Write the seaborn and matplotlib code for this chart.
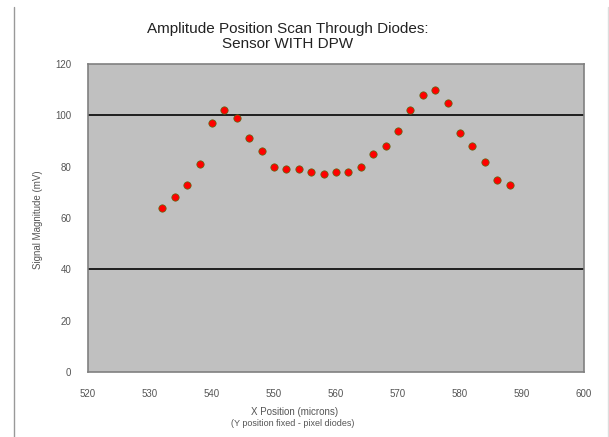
import matplotlib
matplotlib.use("Agg")
import matplotlib.pyplot as plt
import seaborn as sns
import pandas as pd
from matplotlib.lines import Line2D

x_pos = [532, 534, 536, 538, 540, 542, 544, 546, 548, 550, 552, 554, 556, 558, 560,
         562, 564, 566, 568, 570, 572, 574, 576, 578, 580, 582, 584, 586, 588]
signal = [64, 68, 73, 81, 97, 102, 99, 91, 86, 80, 79, 79, 78, 77, 78,
          78, 80, 85, 88, 94, 102, 108, 110, 105, 93, 88, 82, 75, 73]
x_ticks = [520, 530, 540, 550, 560, 570, 580, 590, 600]
y_ticks = [0, 20, 40, 60, 80, 100, 120]
grid_vals = [40, 100]

df = pd.DataFrame({"x": x_pos, "y": signal})

sns.set_theme(style="white")
plt.rcParams['font.family'] = ['Liberation Sans', 'DejaVu Sans']

W, H = 609, 437
fig = plt.figure(figsize=(W / 100, H / 100), dpi=100)
ax = fig.add_axes([88 / W, 1 - 372 / H, (584 - 88) / W, (372 - 64) / H])
ax.set_facecolor('#C0C0C0')

for g in grid_vals:
    ax.axhline(g, color='#111111', lw=1.3, zorder=1)

sns.scatterplot(data=df, x="x", y="y", ax=ax, color='#FF0000', s=28,
                edgecolor='#5A6A10', linewidth=0.5, zorder=3, legend=False)

ax.set_xlim(520, 600)
ax.set_ylim(0, 120)
ax.set_xticks(x_ticks)
ax.set_yticks(y_ticks)
ax.set_xticklabels([str(v) for v in x_ticks])
ax.set_yticklabels([str(v) for v in y_ticks])
ax.tick_params(axis='x', length=0, pad=12, labelsize=7, labelcolor='#555555')
ax.tick_params(axis='y', length=0, pad=12, labelsize=7, labelcolor='#555555')
ax.set_xlabel("")
ax.set_ylabel("")
for sp in ax.spines.values():
    sp.set_color('#808080')
    sp.set_linewidth(1.2)

fig.text(288 / W, 1 - 29 / H, "Amplitude Position Scan Through Diodes:",
         ha='center', va='center', fontsize=11, color='#222222')
fig.text(288 / W, 1 - 44 / H, "Sensor WITH DPW",
         ha='center', va='center', fontsize=11, color='#222222')
fig.text(295 / W, 1 - 412 / H, "X Position (microns)",
         ha='center', va='center', fontsize=7, color='#555555')
fig.text(293 / W, 1 - 423 / H, "(Y position fixed - pixel diodes)",
         ha='center', va='center', fontsize=6.5, color='#555555')
fig.text(38 / W, 1 - 220 / H, "Signal Magnitude (mV)",
         ha='center', va='center', fontsize=7, color='#555555', rotation=90)

fig.add_artist(Line2D([14 / W, 14 / W], [0, 1 - 7 / H], transform=fig.transFigure,
                      color='#999999', lw=1))
fig.add_artist(Line2D([607.5 / W, 607.5 / W], [0, 1 - 7 / H], transform=fig.transFigure,
                      color='#DDDDDD', lw=1))

fig.savefig("out.png", dpi=100)
